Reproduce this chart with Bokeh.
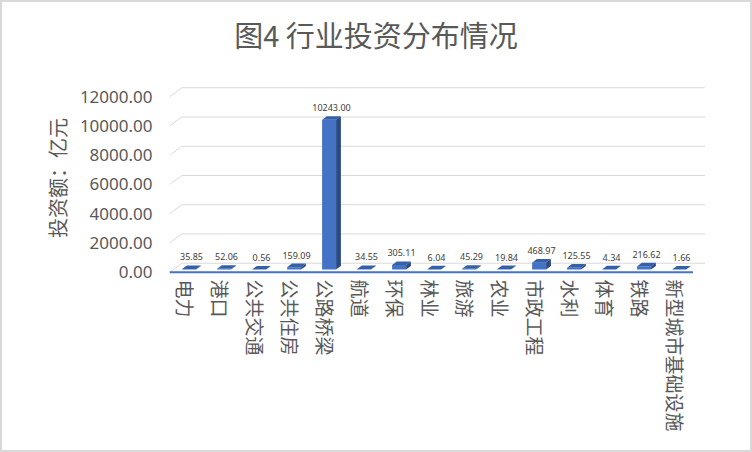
from bokeh.plotting import figure
from bokeh.layouts import column
from bokeh.models import Range1d, FixedTicker, NumeralTickFormatter, ColumnDataSource, Div
from bokeh.core.properties import value
from bokeh.embed import file_html
from bokeh.resources import INLINE

# ---- data ----
categories = ["电力", "港口", "公共交通", "公共住房", "公路桥梁", "航道", "环保", "林业",
              "旅游", "农业", "市政工程", "水利", "体育", "铁路", "新型城市基础设施"]
values = [35.85, 52.06, 0.56, 159.09, 10243.00, 34.55, 305.11, 6.04,
          45.29, 19.84, 468.97, 125.55, 4.34, 216.62, 1.66]
y_ticks = [0, 2000, 4000, 6000, 8000, 10000, 12000]
title_text = "图4 行业投资分布情况"
y_title = "投资额：亿元"

# ---- style constants (3D look) ----
DX = 12 / 35.0      # depth shift in category units
DY = 615.0          # depth shift in value units
BAR_W = 0.4
BAR_FRONT = 0.3
BAR_DEPTH = 0.4
FLOOR_L = -0.45
FLOOR_R = 14.5
GRAY = "#595959"
FONT = "Noto Sans CJK SC"

title_div = Div(text=title_text, width=748, height=64, margin=0,
                styles={"font-family": "'Noto Sans CJK SC'", "font-size": "29px",
                        "color": GRAY, "text-align": "center", "line-height": "64px",
                        "background-color": "white"})

p = figure(width=748, height=384,
           x_range=Range1d(-0.7143, 15.0), y_range=Range1d(-226, 13112),
           output_backend="svg", toolbar_location=None,
           min_border_left=158, min_border_right=40,
           min_border_top=14, min_border_bottom=175)
p.margin = 0
p.outline_line_color = None
p.xgrid.visible = False
p.ygrid.visible = False
p.background_fill_color = "white"
p.border_fill_color = "white"

# back-wall gridlines with left slant
p.multi_line(xs=[[FLOOR_L, FLOOR_L + DX, FLOOR_R + DX] for v in y_ticks],
             ys=[[v, v + DY, v + DY] for v in y_ticks],
             line_color="#d9d9d9", line_width=1)
# floor front edge
p.line(x=[FLOOR_L, FLOOR_R], y=[y_ticks[0], y_ticks[0]], line_color="#4472C4", line_width=2)

# bars
idx = list(range(len(categories)))
x0 = [i + BAR_FRONT * DX - BAR_W / 2 for i in idx]
x1 = [a + BAR_W for a in x0]
yb = [BAR_FRONT * DY for v in values]
yt = [v + BAR_FRONT * DY for v in values]
ddx = BAR_DEPTH * DX
ddy = BAR_DEPTH * DY

p.quad(left=x0, right=x1, bottom=yb, top=yt, fill_color="#4472C4", line_color=None)
p.patches(xs=[[a, b, b + ddx, a + ddx] for a, b in zip(x0, x1)],
          ys=[[t, t, t + ddy, t + ddy] for t in yt],
          fill_color="#3560A8", line_color=None)
p.patches(xs=[[b, b + ddx, b + ddx, b] for b in x1],
          ys=[[lo, lo + ddy, t + ddy, t] for lo, t in zip(yb, yt)],
          fill_color="#2A4A85", line_color=None)

lab = ColumnDataSource(dict(
    x=[a + BAR_W / 2 + ddx / 2 for a in x0],
    y=[t + ddy for t in yt],
    text=[f"{v:.2f}" for v in values]))
p.text(x="x", y="y", text="text", source=lab, text_align="center", text_baseline="bottom",
       y_offset=-5, text_font=value("Noto Sans"), text_font_size="9px", text_color="#404040")

# x axis
p.xaxis.ticker = FixedTicker(ticks=idx)
p.xaxis.major_label_overrides = {i: c for i, c in zip(idx, categories)}
p.xaxis.major_label_orientation = "vertical"
p.xaxis.axis_line_color = None
p.xaxis.major_tick_line_color = None
p.xaxis.minor_tick_line_color = None
p.xaxis.major_label_text_font = FONT
p.xaxis.major_label_text_font_size = "19px"
p.xaxis.major_label_text_color = GRAY
p.xaxis.major_label_standoff = -2

# y axis
p.yaxis.ticker = FixedTicker(ticks=y_ticks)
p.yaxis.formatter = NumeralTickFormatter(format="0.00")
p.yaxis.axis_line_color = None
p.yaxis.major_tick_line_color = None
p.yaxis.minor_tick_line_color = None
p.yaxis.major_label_text_font = "Noto Sans"
p.yaxis.major_label_text_font_size = "17px"
p.yaxis.major_label_text_color = GRAY
p.yaxis.major_label_standoff = 2
p.yaxis.axis_label = y_title
p.yaxis.axis_label_text_font = FONT
p.yaxis.axis_label_text_font_size = "20px"
p.yaxis.axis_label_text_font_style = "normal"
p.yaxis.axis_label_text_color = GRAY
p.yaxis.axis_label_standoff = 5

layout = column(title_div, p, spacing=0)
layout.styles = {"border": "2px solid #d9d9d9", "background-color": "white"}

open("out.html", "w").write(file_html(layout, INLINE))
